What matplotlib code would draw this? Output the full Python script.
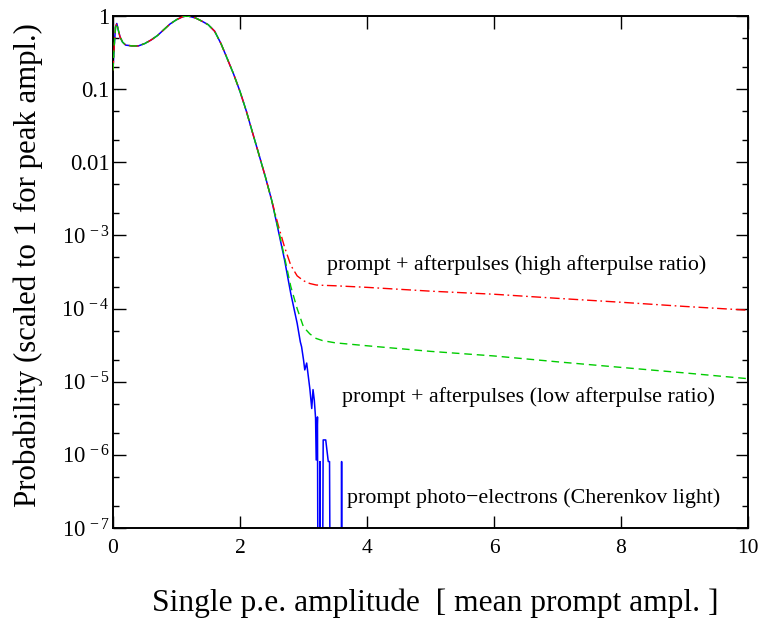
import matplotlib
matplotlib.use("Agg")
import matplotlib.pyplot as plt
import numpy as np
from matplotlib.ticker import FixedLocator, FuncFormatter
from matplotlib.transforms import ScaledTranslation

# ---- data ----
# shared prompt spectrum body (all three curves coincide here)
body_x = [0.00, 0.02, 0.04, 0.06, 0.08, 0.11, 0.15, 0.20, 0.30, 0.40, 0.50, 0.60,
          0.70, 0.80, 0.90, 1.00, 1.10, 1.16, 1.20, 1.30, 1.40, 1.50, 1.60, 1.70,
          1.80, 1.90, 2.00, 2.10, 2.20, 2.30, 2.40, 2.50]
body_y = [0.18, 0.40, 0.71, 0.79, 0.66, 0.52, 0.44, 0.40, 0.39, 0.39, 0.42, 0.47,
          0.54, 0.65, 0.78, 0.89, 0.98, 1.00, 0.99, 0.94, 0.85, 0.76, 0.62, 0.42,
          0.26, 0.16, 0.093, 0.050, 0.025, 0.0126, 0.0063, 0.0030]

# prompt photo-electrons tail (histogram with statistical noise, 0 = empty bin)
prompt_tail_x = [2.60, 2.70, 2.80, 2.90, 2.95, 2.97, 3.00, 3.02, 3.05, 3.07, 3.10,
                 3.13, 3.15, 3.17, 3.19, 3.20, 3.22, 3.24, 3.26, 3.28, 3.31, 3.35,
                 3.39, 3.41, 3.44, 3.58, 3.60, 3.62, 3.70]
prompt_tail_y = [1.2e-3, 4.7e-4, 1.6e-4, 6.3e-5, 3.5e-5, 3.0e-5, 2.0e-5, 1.45e-5,
                 1.8e-5, 1.3e-5, 8.0e-6, 4.3e-6, 7.8e-6, 5.6e-6, 3.2e-6, 8.5e-7,
                 3.3e-6, 0.0, 8.1e-7, 0.0, 1.6e-6, 1.6e-6, 8.1e-7, 8.1e-7, 0.0,
                 0.0, 8.1e-7, 0.0, 0.0]

# prompt + afterpulses tails
ap_tail_x = [2.60, 2.70, 2.80, 2.90, 3.00, 3.10, 3.20, 3.30, 3.50, 4.00, 5.00,
             6.00, 7.00, 8.00, 9.00, 10.00]
high_tail_y = [1.4e-3, 7.0e-4, 3.9e-4, 2.8e-4, 2.4e-4, 2.2e-4, 2.1e-4, 2.08e-4,
               2.05e-4, 1.95e-4, 1.73e-4, 1.57e-4, 1.38e-4, 1.22e-4, 1.07e-4, 9.5e-5]
low_tail_y = [1.25e-3, 5.1e-4, 2.0e-4, 1.0e-4, 5.6e-5, 4.5e-5, 3.9e-5, 3.65e-5,
              3.4e-5, 3.1e-5, 2.6e-5, 2.25e-5, 1.87e-5, 1.57e-5, 1.32e-5, 1.1e-5]

labels = ["prompt + afterpulses (high afterpulse ratio)",
          "prompt + afterpulses (low afterpulse ratio)",
          "prompt photo\u2212electrons (Cherenkov light)"]

# ---- styling ----
plt.rcParams["font.family"] = ["Liberation Serif", "DejaVu Serif"]
plt.rcParams["mathtext.fontset"] = "custom"
plt.rcParams["mathtext.rm"] = "Liberation Serif"
plt.rcParams["mathtext.it"] = "Liberation Serif:italic"

fig = plt.figure(figsize=(7.61, 6.20), dpi=100)
ax = fig.add_axes([113/761, 1 - 528/620, (748 - 113)/761, (528 - 16)/620])

FLOOR = 1e-12  # empty bins drawn down past the axis floor
blue_x = body_x + prompt_tail_x
blue_y = [v if v > 0 else FLOOR for v in body_y + prompt_tail_y]
red_x = body_x + ap_tail_x
red_y = body_y + high_tail_y
green_x = body_x + ap_tail_x
green_y = body_y + low_tail_y

ax.plot(blue_x, blue_y, color="#0000ff", lw=1.1, zorder=2)
ax.plot(red_x, red_y, color="#ff0000", lw=1.0, zorder=3,
        dashes=(7, 2.6, 1.2, 2.6))
ax.plot(green_x, green_y, color="#00cc00", lw=1.0, zorder=4,
        dashes=(5.5, 3.5))

ax.set_yscale("log")
ax.set_xlim(0, 10)
ax.set_ylim(1e-7, 1)

ax.xaxis.set_major_locator(FixedLocator([0, 2, 4, 6, 8, 10]))
ax.set_xticklabels(["0", "2", "4", "6", "8", "10"])

majors = [10.0**k for k in range(-7, 1)]
minors = [m * 10.0**k for k in range(-7, 0) for m in (2, 5)]
ax.yaxis.set_major_locator(FixedLocator(majors))
ax.yaxis.set_minor_locator(FixedLocator(minors))

def yfmt(v, pos):
    e = int(round(np.log10(v)))
    if e == 0:
        return "1"
    if e == -1:
        return "0.1"
    if e == -2:
        return "0.01"
    return r"$10^{\,-%d}$" % (-e)

ax.yaxis.set_major_formatter(FuncFormatter(yfmt))
ax.yaxis.set_minor_formatter(FuncFormatter(lambda v, p: ""))

ax.tick_params(which="major", direction="in", length=9, width=1.0,
               top=True, right=True, labelsize=15.5, pad=7)
ax.tick_params(which="minor", direction="in", length=4.5, width=1.0,
               top=True, right=True)
ax.tick_params(axis="x", pad=8)
for s in ax.spines.values():
    s.set_linewidth(1.4)

# exponent labels overhang to the right, as in the reference
shift = ScaledTranslation(6 / 100, 0, fig.dpi_scale_trans)
for tick in ax.yaxis.get_major_ticks():
    loc = tick.get_loc()
    if loc is not None and loc < 0.005:
        tick.label1.set_transform(tick.label1.get_transform() + shift)
        tick.label1.set_fontsize(16.3)

ax.set_xlabel("Single p.e. amplitude  [ mean prompt ampl. ]", fontsize=22.7)
ax.xaxis.set_label_coords(0.508, -0.118)
ax.set_ylabel("Probability (scaled to 1 for peak ampl.)", fontsize=22.2)
ax.yaxis.set_label_coords(-0.111, 0.514)

ax.text(6.35, 3.95e-4, labels[0], fontsize=15.8, ha="center", va="center")
ax.text(6.54, 6.2e-6, labels[1], fontsize=15.8, ha="center", va="center")
ax.text(6.63, 2.6e-7, labels[2], fontsize=15.8, ha="center", va="center")

fig.savefig("out.png", dpi=100, facecolor="white")
